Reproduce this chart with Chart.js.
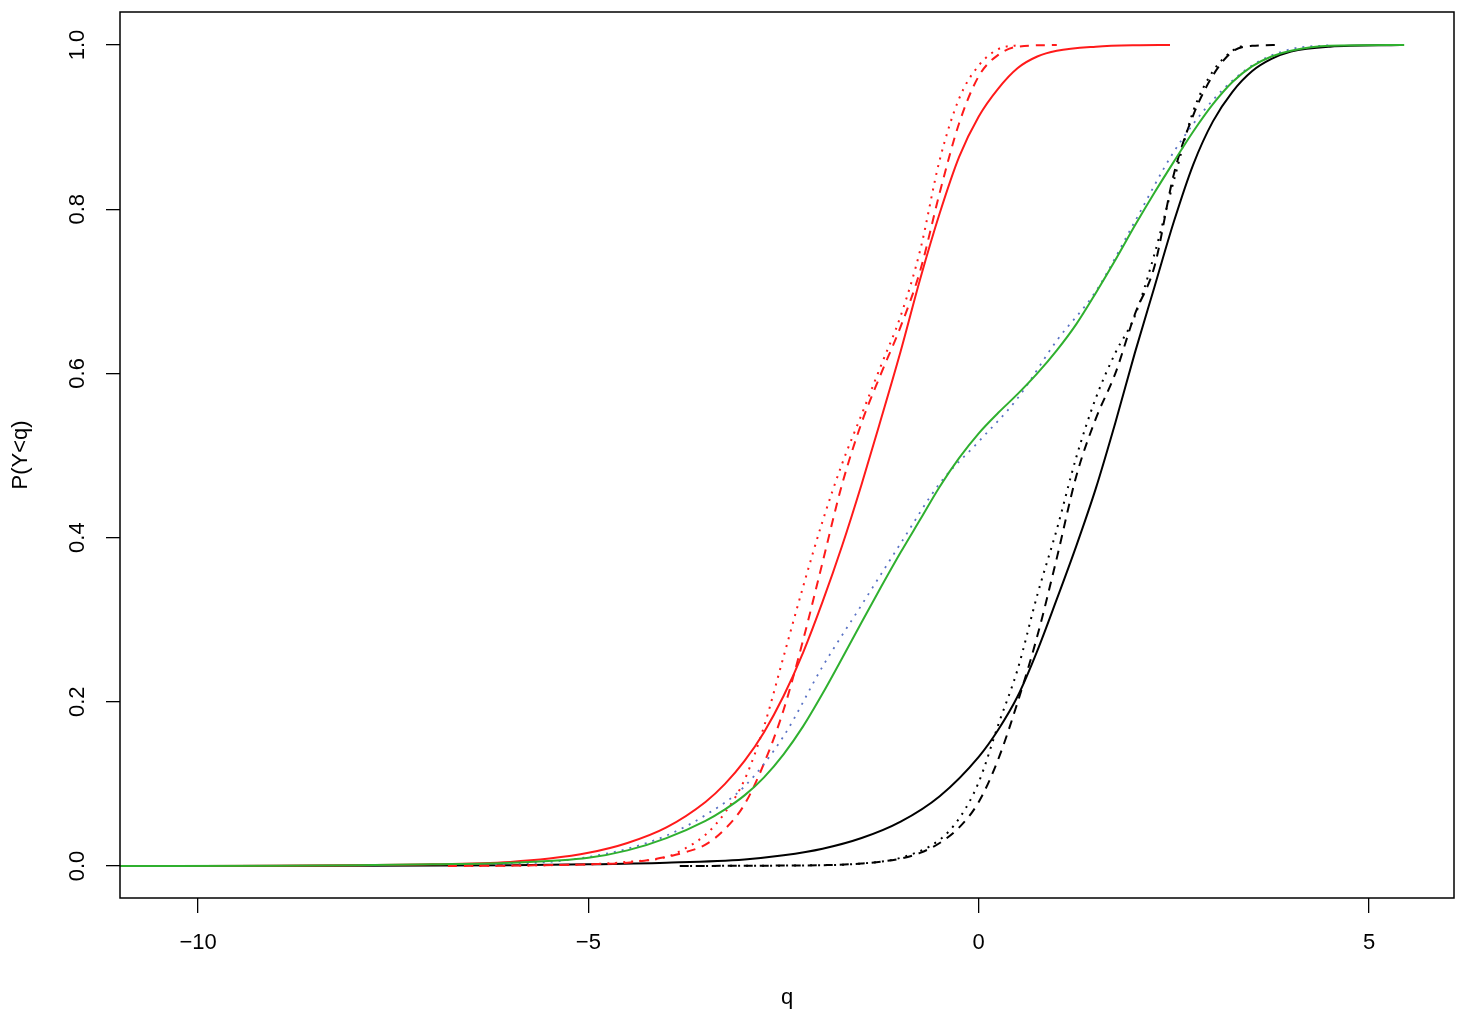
<!DOCTYPE html>
<html lang="en">
  <head>
    <meta charset="UTF-8" />
    <title>P(Y&lt;q)</title>
    <style>
      html, body {
        margin: 0;
        padding: 0;
        background: #ffffff;
      }
      canvas {
        display: block;
      }
    </style>
    <script src="https://cdn.jsdelivr.net/npm/chart.js"></script>
  </head>
  <body>
    <canvas id="cdfChart" width="1461" height="1017"></canvas>

    <script>
      // tick labels
      const xTicks = [-10, -5, 0, 5];
      const yTicks = [0, 0.2, 0.4, 0.6, 0.8, 1.0];

      // red curves
      const redSolidQ = [-10.4, -9, -8, -7, -6, -5.5, -5, -4.5, -4, -3.5, -3.25, -3, -2.75, -2.5, -2.25, -2, -1.75, -1.5, -1.25, -1, -0.75, -0.5, -0.25, 0, 0.25, 0.5, 0.75, 1, 1.5, 2, 2.45];
      const redSolidP = [0, 0.0003, 0.001, 0.002, 0.005, 0.009, 0.016, 0.028, 0.047, 0.078, 0.1, 0.128, 0.163, 0.207, 0.26, 0.322, 0.39, 0.465, 0.545, 0.627, 0.715, 0.795, 0.864, 0.913, 0.947, 0.972, 0.986, 0.993, 0.998, 0.9997, 1.0];

      const redDashQ = [-6.8, -6, -5, -4.5, -4, -3.75, -3.5, -3.25, -3, -2.75, -2.5, -2.25, -2, -1.75, -1.5, -1.25, -1, -0.75, -0.5, -0.25, 0, 0.25, 0.5, 1.0];
      const redDashP = [0, 0.0005, 0.002, 0.004, 0.011, 0.017, 0.026, 0.045, 0.075, 0.125, 0.19, 0.275, 0.37, 0.465, 0.54, 0.6, 0.657, 0.725, 0.82, 0.905, 0.962, 0.988, 0.998, 1.0];

      const redDotQ = [-6.5, -5.5, -5, -4.5, -4, -3.75, -3.5, -3.25, -3, -2.75, -2.5, -2.25, -2, -1.75, -1.5, -1.25, -1, -0.75, -0.5, -0.25, 0, 0.25, 0.5];
      const redDotP = [0, 0.001, 0.002, 0.005, 0.011, 0.022, 0.038, 0.065, 0.105, 0.17, 0.255, 0.34, 0.42, 0.49, 0.55, 0.61, 0.67, 0.75, 0.86, 0.935, 0.975, 0.995, 1.0];

      // black curves
      const blackSolidQ = [-10.5, -8, -6, -5, -4, -3, -2.5, -2, -1.5, -1, -0.5, 0, 0.25, 0.5, 0.75, 1, 1.25, 1.5, 1.75, 2, 2.25, 2.5, 2.75, 3, 3.25, 3.5, 3.75, 4, 4.5, 5.4];
      const blackSolidP = [0, 0.0003, 0.001, 0.002, 0.004, 0.008, 0.013, 0.021, 0.034, 0.054, 0.085, 0.133, 0.166, 0.207, 0.262, 0.325, 0.39, 0.46, 0.54, 0.625, 0.705, 0.785, 0.855, 0.907, 0.943, 0.968, 0.983, 0.992, 0.998, 1.0];

      const blackDashQ = [-3.83, -2.5, -2, -1.5, -1, -0.75, -0.5, -0.25, 0, 0.25, 0.5, 0.75, 1, 1.25, 1.5, 1.75, 2, 2.25, 2.5, 2.75, 3, 3.25, 3.5, 3.85];
      const blackDashP = [0, 0.0005, 0.001, 0.003, 0.009, 0.016, 0.028, 0.047, 0.078, 0.13, 0.2, 0.28, 0.375, 0.475, 0.545, 0.6, 0.672, 0.73, 0.843, 0.915, 0.963, 0.992, 0.999, 1.0];

      const blackDotQ = [-3.8, -2, -1.5, -1, -0.5, -0.25, 0, 0.25, 0.5, 0.75, 1, 1.25, 1.5, 1.75, 2, 2.25, 2.5, 2.75, 3, 3.25, 3.4];
      const blackDotP = [0, 0.001, 0.003, 0.01, 0.032, 0.058, 0.102, 0.172, 0.24, 0.33, 0.41, 0.498, 0.57, 0.625, 0.67, 0.745, 0.835, 0.92, 0.968, 0.993, 1.0];

      // green curve and blue dotted curve
      const greenQ = [-11, -9, -8, -7, -6, -5, -4.5, -4, -3.5, -3.25, -3, -2.75, -2.5, -2.25, -2, -1.75, -1.5, -1.25, -1, -0.75, -0.5, -0.25, 0, 0.25, 0.5, 0.75, 1, 1.25, 1.5, 1.75, 2, 2.25, 2.5, 2.75, 3, 3.25, 3.5, 3.75, 4, 4.5, 5.45];
      const greenP = [0, 0.0003, 0.0008, 0.002, 0.004, 0.01, 0.019, 0.034, 0.055, 0.069, 0.086, 0.108, 0.136, 0.17, 0.21, 0.253, 0.297, 0.34, 0.382, 0.422, 0.462, 0.497, 0.527, 0.552, 0.575, 0.6, 0.628, 0.66, 0.698, 0.738, 0.78, 0.82, 0.858, 0.895, 0.928, 0.955, 0.974, 0.986, 0.993, 0.999, 1.0];

      const blueDotQ = [-6.2, -5.5, -5, -4.5, -4, -3.5, -3, -2.5, -2, -1.5, -1, -0.5, 0, 0.5, 1, 1.5, 2, 2.5, 3, 3.5, 4, 4.53];
      const blueDotP = [0.002, 0.005, 0.011, 0.021, 0.037, 0.062, 0.097, 0.158, 0.243, 0.318, 0.393, 0.466, 0.517, 0.57, 0.64, 0.7, 0.785, 0.87, 0.933, 0.975, 0.995, 1.0];

      const FONT = "'Liberation Sans', Arial, Helvetica, sans-serif";

      function toPoints(qs, ps) {
        return qs.map((q, i) => ({ x: q, y: ps[i] }));
      }

      function line(label, qs, ps, color, dash, width) {
        return {
          label: label,
          data: toPoints(qs, ps),
          borderColor: color,
          borderWidth: width,
          borderDash: dash,
          borderCapStyle: "butt",
          pointRadius: 0,
          showLine: true,
          fill: false,
          cubicInterpolationMode: "monotone",
        };
      }

      // minus sign like R
      function fmtX(v) {
        return v < 0 ? "\u2212" + Math.abs(v) : String(v);
      }

      // box around the plot region
      const boxPlugin = {
        id: "plotBox",
        afterDatasetsDraw(chart) {
          const a = chart.chartArea;
          const ctx = chart.ctx;
          ctx.save();
          ctx.strokeStyle = "#000";
          ctx.lineWidth = 1.5;
          ctx.strokeRect(a.left, a.top, a.right - a.left, a.bottom - a.top);
          ctx.restore();
        },
      };

      Chart.defaults.font.family = FONT;
      Chart.defaults.color = "#000";

      new Chart(document.getElementById("cdfChart").getContext("2d"), {
        type: "scatter",
        data: {
          datasets: [
            line("green", greenQ, greenP, "#2fb02f", [], 2),
            line("blue dotted", blueDotQ, blueDotP, "#5a72c4", [2, 6], 1.8),
            line("red", redSolidQ, redSolidP, "#ff1a1a", [], 2),
            line("red dashed", redDashQ, redDashP, "#ff1a1a", [9, 7], 2),
            line("red dotted", redDotQ, redDotP, "#ff1a1a", [2, 6], 2),
            line("black", blackSolidQ, blackSolidP, "#000000", [], 2),
            line("black dashed", blackDashQ, blackDashP, "#000000", [9, 7], 2),
            line("black dotted", blackDotQ, blackDotP, "#000000", [2, 6], 2),
          ],
        },
        options: {
          responsive: false,
          animation: false,
          layout: { padding: { left: 0, top: 12, right: 7, bottom: 0 } },
          plugins: {
            legend: { display: false },
            tooltip: { enabled: false },
          },
          scales: {
            x: {
              type: "linear",
              min: -11.0,
              max: 6.088,
              afterBuildTicks: (s) => {
                s.ticks = xTicks.map((v) => ({ value: v }));
              },
              afterFit: (s) => {
                s.height = 119;
                s.paddingLeft = 0;
                s.paddingRight = 0;
              },
              ticks: {
                font: { size: 22 },
                color: "#000",
                padding: 17,
                maxRotation: 0,
                callback: (v) => fmtX(v),
              },
              grid: {
                drawOnChartArea: false,
                drawTicks: true,
                tickLength: 15,
                tickColor: "#000",
                lineWidth: 1.3,
              },
              border: { display: false },
              title: {
                display: true,
                text: "q",
                font: { size: 22 },
                color: "#000",
                padding: { top: 0, bottom: 6 },
              },
            },
            y: {
              type: "linear",
              min: -0.039,
              max: 1.0402,
              afterBuildTicks: (s) => {
                s.ticks = yTicks.map((v) => ({ value: v }));
              },
              afterFit: (s) => {
                s.width = 120;
                s.paddingTop = 0;
                s.paddingBottom = 0;
              },
              ticks: {
                font: { size: 22 },
                color: "#000",
                padding: 13,
                minRotation: 90,
                maxRotation: 90,
                crossAlign: "center",
                callback: (v) => v.toFixed(1),
              },
              grid: {
                drawOnChartArea: false,
                drawTicks: true,
                tickLength: 14,
                tickColor: "#000",
                lineWidth: 1.3,
              },
              border: { display: false },
              title: {
                display: true,
                text: "P(Y<q)",
                font: { size: 22 },
                color: "#000",
                padding: { top: 8, bottom: 0 },
              },
            },
          },
        },
        plugins: [boxPlugin],
      });
    </script>
  </body>
</html>
